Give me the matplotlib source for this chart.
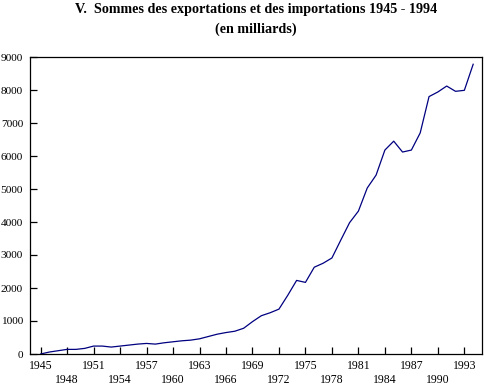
import matplotlib
matplotlib.use("Agg")
import matplotlib.pyplot as plt

years = list(range(1945, 1995))
values = [0, 60, 100, 140, 140, 170, 240, 240, 210, 240,
          270, 300, 320, 300, 340, 370, 400, 420, 460, 530,
          600, 650, 690, 780, 980, 1160, 1250, 1360, 1780, 2230,
          2170, 2630, 2750, 2910, 3450, 3980, 4330, 5030, 5420, 6180,
          6450, 6120, 6180, 6700, 7800, 7940, 8120, 7960, 7990, 8780]

tick_years = list(range(1945, 1994, 3))
y_ticks = list(range(0, 9001, 1000))

plt.rcParams['font.family'] = ['Liberation Serif', 'DejaVu Serif']

fig = plt.figure(figsize=(4.84, 3.86), dpi=100)
ax = fig.add_axes([30/484, 1 - 354/386, 452/484, 297/386])

ax.plot(years, values, color='#000080', lw=0.9)

ax.set_xlim(1943.8, 1995.0)
ax.set_ylim(0, 9000)

labels = [str(y) if i % 2 == 0 else '\n' + str(y) for i, y in enumerate(tick_years)]
ax.set_xticks(tick_years)
ax.set_xticklabels(labels, fontsize=8.5, linespacing=1.25)
ax.set_yticks(y_ticks)
ax.set_yticklabels([str(v) for v in y_ticks], fontsize=8.2)
ax.tick_params(direction='in', length=5, width=0.9, color='black')
ax.tick_params(axis='x', pad=4)
ax.tick_params(axis='y', pad=5)
for s in ax.spines.values():
    s.set_linewidth(0.9)

fig.text(0.529, 1 - 9/386, 'V.  Sommes des exportations et des importations 1945 - 1994',
         ha='center', va='center', fontsize=10.2, fontweight='bold')
fig.text(0.529, 1 - 29/386, '(en milliards)', ha='center', va='center',
         fontsize=10.2, fontweight='bold')

fig.savefig('out.png', dpi=100)
